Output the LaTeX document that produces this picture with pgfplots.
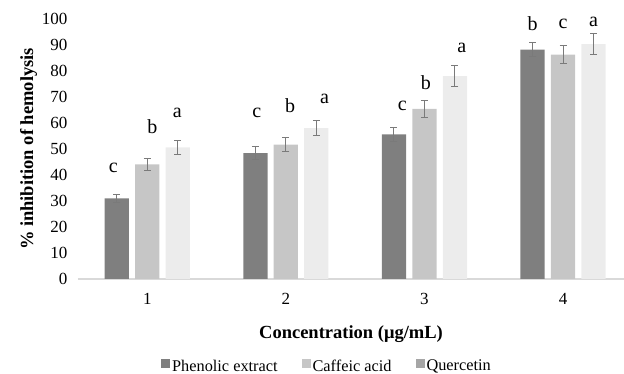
\documentclass[border=0pt]{standalone}
\usepackage{pgfplots}
\pgfplotsset{compat=1.18}
\usepackage{fontspec}
\setmainfont{Liberation Serif}
\definecolor{cPhen}{HTML}{7F7F7F}
\definecolor{cCaf}{HTML}{C6C6C6}
\definecolor{cQue}{HTML}{ECECEC}
\definecolor{cQueLeg}{HTML}{A6A6A6}
\definecolor{cErr}{HTML}{7A7A7A}
\definecolor{cAxis}{HTML}{D9D9D9}
\begin{document}
\begin{tikzpicture}
\path[use as bounding box] (-78pt,-95pt) rectangle (546pt,279pt);
\begin{axis}[
  at={(0,0)}, anchor=south west,
  scale only axis, width=546pt, height=260pt,
  xmin=0.5, xmax=4.44, ymin=0, ymax=100,
  ybar, bar width=0.175,
  xtick={1,2,3,4}, ytick={0,10,...,100},
  axis y line*=left,
  y axis line style={draw=none},
  axis x line*=bottom,
  x axis line style={draw=cAxis, line width=1.5pt, -},
  major tick length=0pt,
  /pgf/number format/assume math mode=true,
  tick label style={font=\fontsize{17}{19}\selectfont},
  xticklabel style={yshift=-11pt},
  yticklabel style={xshift=-7pt},
  xlabel={\textbf{Concentration (μg/mL)}},
  xlabel style={font=\fontsize{18.5}{20}\selectfont, yshift=-14pt},
  ylabel={\textbf{\% inhibition of hemolysis}},
  ylabel style={font=\fontsize{18.5}{20}\selectfont, yshift=-2pt},
  legend style={draw=none, fill=none, at={(0.456,-0.335)}, anchor=center, legend columns=-1,
    font=\fontsize{16.3}{18}\selectfont},
  legend cell align=left,
  error bars/y dir=both, error bars/y explicit,
  error bars/error mark options={rotate=90, mark size=3.5pt, line width=1pt, draw=cErr},
  error bars/error bar style={line width=1pt, draw=cErr},
  clip=false,
]
\addplot[fill=cPhen, draw=none, bar shift=-0.22,
  legend image code/.code={\fill[cPhen] (0pt,-2pt) rectangle (9pt,7pt);}]
  coordinates {(1,31.0) +- (0,1.6) (2,48.4) +- (0,2.4) (3,55.6) +- (0,2.8) (4,88.2) +- (0,2.7)};
\addlegendentry{Phenolic extract\rule{22pt}{0pt}}
\addplot[fill=cCaf, draw=none, bar shift=0,
  legend image code/.code={\fill[cCaf] (0pt,-2pt) rectangle (9pt,7pt);}]
  coordinates {(1,44.1) +- (0,2.2) (2,51.7) +- (0,2.6) (3,65.4) +- (0,3.3) (4,86.3) +- (0,3.6)};
\addlegendentry{Caffeic acid\rule{22pt}{0pt}}
\addplot[fill=cQue, draw=none, bar shift=0.22,
  legend image code/.code={\fill[cQueLeg] (0pt,-2pt) rectangle (9pt,7pt);}]
  coordinates {(1,50.6) +- (0,2.6) (2,58.0) +- (0,2.9) (3,78.0) +- (0,4.0) (4,90.3) +- (0,4.0)};
\addlegendentry{Quercetin}
\begin{scope}[every node/.style={font=\fontsize{20}{22}\selectfont}]
\node at (axis cs:0.755,42.9) {c};
\node at (axis cs:1.036,58.4) {b};
\node at (axis cs:1.216,63.7) {a};
\node at (axis cs:1.79,63.7) {c};
\node at (axis cs:2.03,66.8) {b};
\node at (axis cs:2.28,69.1) {a};
\node at (axis cs:2.84,66.5) {c};
\node at (axis cs:3.01,75.6) {b};
\node at (axis cs:3.27,88.7) {a};
\node at (axis cs:3.78,98.1) {b};
\node at (axis cs:4.0,98.1) {c};
\node at (axis cs:4.22,98.7) {a};
\end{scope}
\end{axis}
\end{tikzpicture}
\end{document}
